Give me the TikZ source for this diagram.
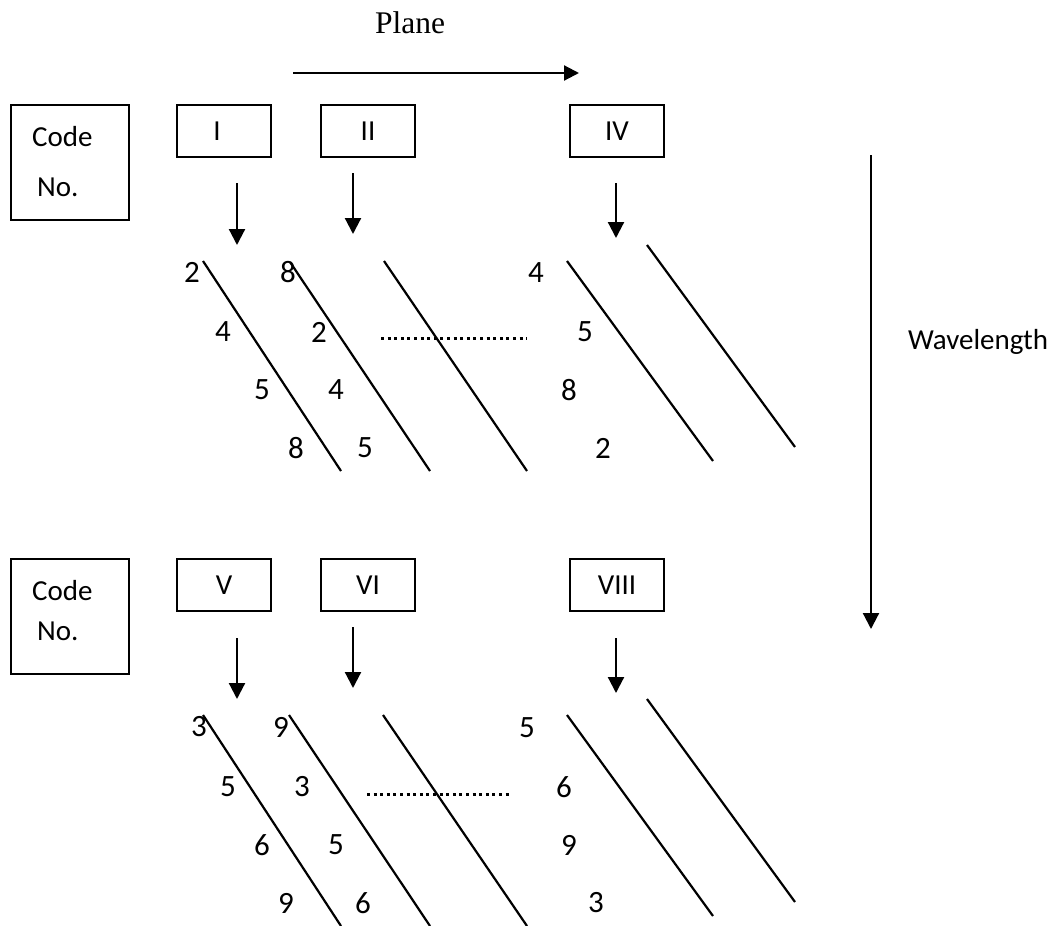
\documentclass[tikz,border=0pt]{standalone}
\usepackage{fontspec}
\setmainfont{Carlito}
\newfontfamily\timesfont{Liberation Serif}
\usetikzlibrary{arrows.meta}

\begin{document}
\begin{tikzpicture}[x=1pt,y=-1pt,
  every node/.style={inner sep=0pt, font=\fontsize{29}{34}\selectfont},
  codebox/.style={draw, line width=2pt, minimum width=118pt, minimum height=115pt},
  numbox/.style={draw, line width=2pt, minimum width=94pt, minimum height=52pt},
  digit/.style={font=\fontsize{31}{36}\selectfont},
  pointer/.style={line width=2.2pt, -{Triangle[length=16pt,width=16pt]}},
  stroke/.style={line width=2.2pt},
  gap/.style={line width=3pt, dash pattern=on 3pt off 3.6pt}
]
\useasboundingbox (0,0) rectangle (1055,926);

% axis arrows
\node[font=\timesfont\fontsize{31.5}{36}\selectfont] (plane) at (410,23) {Plane};
\coordinate (p0) at (293,73);
\coordinate (p1) at (579,73);
\draw[pointer, -{Triangle[length=15pt,width=15pt]}] (p0) -- (p1);

\coordinate (w0) at (871,155);
\coordinate (w1) at (871,629);
\draw[pointer] (w0) -- (w1);
\node (wave) at (978,342) {Wavelength};

% ---------------- upper group ----------------
\node[codebox] (codeA) at (70,162.5) {};
\node[anchor=west] (codeAt) at (32,137) {Code};
\node[anchor=west] (codeAn) at (37,187) {No.};

\node[numbox] (bI)  at (224,131) {I\hspace*{14pt}};
\node[numbox] (bII) at (368,131) {II};
\node[numbox] (bIV) at (617,131) {IV};

\coordinate (aI0) at (237,183);  \coordinate (aI1) at (237,245);
\coordinate (aII0) at (353,173); \coordinate (aII1) at (353,234);
\coordinate (aIV0) at (616,183); \coordinate (aIV1) at (616,238);
\draw[pointer] (aI0) -- (aI1);
\draw[pointer] (aII0) -- (aII1);
\draw[pointer] (aIV0) -- (aIV1);

\draw[stroke] (203,261) -- (341,471);
\draw[stroke] (290,262) -- (430,471);
\draw[stroke] (384,261) -- (527,471);
\draw[stroke] (567,261) -- (713,461);
\draw[stroke] (647,245) -- (795,447);

\draw[gap] (381,338) -- (527,338);

\node[digit] (uA1) at (192,272) {2};
\node[digit] (uA2) at (223,332) {4};
\node[digit] (uA3) at (262,390) {5};
\node[digit] (uA4) at (296,448) {8};
\node[digit] (uB1) at (288,272) {8};
\node[digit] (uB2) at (319,332) {2};
\node[digit] (uB3) at (336,390) {4};
\node[digit] (uB4) at (365,448) {5};
\node[digit] (uC1) at (536,273) {4};
\node[digit] (uC2) at (585,332) {5};
\node[digit] (uC3) at (569,390) {8};
\node[digit] (uC4) at (603,448) {2};

% ---------------- lower group ----------------
\node[codebox] (codeB) at (70,616.5) {};
\node[anchor=west] (codeBt) at (32,591) {Code};
\node[anchor=west] (codeBn) at (37,631) {No.};

\node[numbox] (bV)    at (224,585) {V};
\node[numbox] (bVI)   at (368,585) {VI};
\node[numbox] (bVIII) at (617,585) {VIII};

\coordinate (aV0) at (237,638);    \coordinate (aV1) at (237,699);
\coordinate (aVI0) at (353,627);   \coordinate (aVI1) at (353,688);
\coordinate (aVIII0) at (616,638); \coordinate (aVIII1) at (616,693);
\draw[pointer] (aV0) -- (aV1);
\draw[pointer] (aVI0) -- (aVI1);
\draw[pointer] (aVIII0) -- (aVIII1);

\draw[stroke] (203,715) -- (341,926);
\draw[stroke] (289,715) -- (430,926);
\draw[stroke] (383,715) -- (527,926);
\draw[stroke] (567,715) -- (713,916);
\draw[stroke] (647,699) -- (795,902);

\draw[gap] (367,794) -- (511,794);

\node[digit] (lA1) at (199,727) {3};
\node[digit] (lA2) at (228,787) {5};
\node[digit] (lA3) at (262,845) {6};
\node[digit] (lA4) at (286,903) {9};
\node[digit] (lB1) at (281,727) {9};
\node[digit] (lB2) at (302,787) {3};
\node[digit] (lB3) at (336,845) {5};
\node[digit] (lB4) at (363,903) {6};
\node[digit] (lC1) at (527,728) {5};
\node[digit] (lC2) at (564,787) {6};
\node[digit] (lC3) at (569,845) {9};
\node[digit] (lC4) at (596,903) {3};
\end{tikzpicture}
\end{document}
